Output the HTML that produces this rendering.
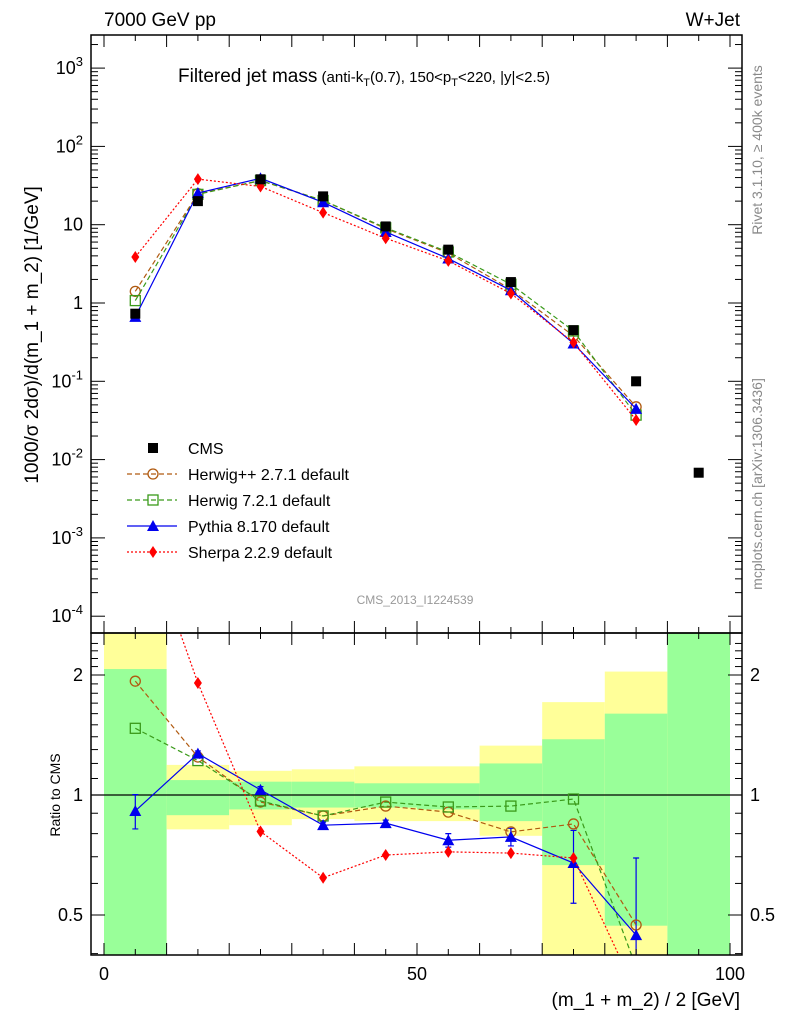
<!DOCTYPE html>
<html><head><meta charset="utf-8"><style>
body{margin:0;background:#fff;font-family:"Liberation Sans",sans-serif}
svg text{font-family:"Liberation Sans","DejaVu Sans",sans-serif}
</style></head><body>
<svg id="c" width="786" height="1024" xmlns="http://www.w3.org/2000/svg"></svg>
<script>
const xc=[5,15,25,35,45,55,65,75,85];
const cmsX=[5,15,25,35,45,55,65,75,85,95];
const cmsY=[0.73,20,38,23,9.5,4.8,1.85,0.45,0.1,0.0068];
const hppR=[1.93,1.245,0.96,0.886,0.938,0.906,0.808,0.846,0.472];
const h7R=[1.47,1.22,0.966,0.886,0.96,0.933,0.938,0.977,0.37];
const pyR=[0.912,1.27,1.03,0.84,0.85,0.77,0.785,0.675,0.445];
const shR=[5.3,1.91,0.81,0.62,0.707,0.72,0.715,0.695,0.32];
const pyErr=[0.09,0.02,0.02,0.015,0.015,0.03,0.04,0.14,0.25];
const binLo=[0,10,20,30,40,50,60,70,80,90];
const yelLo=[0.3,0.82,0.84,0.87,0.86,0.86,0.79,0.3,0.3,0.3];
const yelHi=[3,1.19,1.15,1.16,1.18,1.18,1.33,1.71,2.04,3];
const grnLo=[0.3,0.89,0.92,0.93,0.93,0.92,0.86,0.667,0.47,0.3];
const grnHi=[2.07,1.09,1.08,1.08,1.07,1.07,1.2,1.38,1.6,3];
const mainTicks=[3,2,1,0,-1,-2,-3,-4];
const xTicks=[0,50,100];
const ratioTicks=[0.5,1,2];

const S=document.getElementById('c');const NS='http://www.w3.org/2000/svg';
function el(t,a,p){const e=document.createElementNS(NS,t);for(const k in a)e.setAttribute(k,a[k]);(p||S).appendChild(e);return e;}
const L=91,R=742,T=35,MB=633,RB=955;
const X=v=>104+v*6.26;
const Y=v=>303-Math.log10(v)*78.3;
const YR=v=>795-Math.log10(v)*398.6;
const defs=el('defs',{});
const cp1=el('clipPath',{id:'cm'},defs);el('rect',{x:L,y:T,width:R-L,height:MB-T},cp1);
const cp2=el('clipPath',{id:'cr'},defs);el('rect',{x:L,y:MB,width:R-L,height:RB-MB},cp2);
const gm=el('g',{'clip-path':'url(#cm)'});
const gr=el('g',{'clip-path':'url(#cr)'});
for(let i=0;i<binLo.length;i++){
 let r=el('rect',{x:X(binLo[i]),y:YR(yelHi[i]),width:X(10)-X(0),height:YR(yelLo[i])-YR(yelHi[i]),fill:'#ffff99'},gr);
 
 
 let g=el('rect',{x:X(binLo[i]),y:YR(grnHi[i]),width:X(10)-X(0),height:YR(grnLo[i])-YR(grnHi[i]),fill:'#99ff99'},gr);
 
 
}
el('line',{x1:L,x2:R,y1:YR(1),y2:YR(1),stroke:'#000','stroke-width':1.2},gr);
const series=[
 {r:hppR,c:'#b05a10',d:'5,3',m:'circ',n:'herwigpp'},
 {r:h7R,c:'#3a9a1a',d:'5,3',m:'sq',n:'herwig7'},
 {r:pyR,c:'#0000ee',d:'',m:'tri',n:'pythia'},
 {r:shR,c:'#ff0000',d:'2,2',m:'dia',n:'sherpa'}];
function marker(g,m,x,y,c){
 if(m==='circ')return el('circle',{cx:x,cy:y,r:5,fill:'none',stroke:c,'stroke-width':1.3},g);
 if(m==='sq')return el('rect',{x:x-5,y:y-5,width:10,height:10,fill:'none',stroke:c,'stroke-width':1.3},g);
 if(m==='tri')return el('polygon',{points:`${x},${y-6} ${x-6},${y+5} ${x+6},${y+5}`,fill:c},g);
 if(m==='dia')return el('polygon',{points:`${x},${y-6} ${x-4},${y} ${x},${y+6} ${x+4},${y}`,fill:c},g);
 return el('rect',{x:x-5,y:y-5,width:10,height:10,fill:c},g);
}
// pythia error bars
xc.forEach((x,i)=>{
 const lo=pyR[i]-pyErr[i],hi=pyR[i]+pyErr[i];
 const eb=el('path',{d:`M${X(x)},${YR(hi)}V${YR(lo)}M${X(x)-3},${YR(hi)}h6M${X(x)-3},${YR(lo)}h6`,stroke:'#0000ee','stroke-width':1.2,fill:'none'},gr);
 
 
});
series.forEach(s=>{
 const pm=xc.map((x,i)=>X(x)+','+Y(s.r[i]*cmsY[i])).join(' ');
 const pr=xc.map((x,i)=>X(x)+','+YR(s.r[i])).join(' ');
 let a=el('polyline',{points:pm,fill:'none',stroke:s.c,'stroke-width':1.2,'stroke-dasharray':s.d},gm);
 
 
 let b=el('polyline',{points:pr,fill:'none',stroke:s.c,'stroke-width':1.2,'stroke-dasharray':s.d},gr);
 
 
 xc.forEach((x,i)=>{
  let m1=marker(gm,s.m,X(x),Y(s.r[i]*cmsY[i]),s.c);
  
  
  let m2=marker(gr,s.m,X(x),YR(s.r[i]),s.c);
  
  
 });
});
cmsX.forEach((x,i)=>{
 let m=marker(gm,'cms',X(x),Y(cmsY[i]),'#000');
 
 
});
el('rect',{x:L,y:T,width:R-L,height:MB-T,fill:'none',stroke:'#000','stroke-width':1.5});
el('rect',{x:L,y:MB,width:R-L,height:RB-MB,fill:'none',stroke:'#000','stroke-width':1.5});
function tx(x,y,s,a,p){const t=el('text',Object.assign({x:x,y:y,'font-size':18,fill:'#000'},a||{}),p);t.textContent=s;return t;}
mainTicks.forEach(e=>{
 const y=Y(Math.pow(10,e));
 el('line',{x1:L,x2:L+14,y1:y,y2:y,stroke:'#000'});el('line',{x1:R-14,x2:R,y1:y,y2:y,stroke:'#000'});
 for(let k=2;k<10;k++){const yy=Y(k*Math.pow(10,e));if(yy>T&&yy<MB){el('line',{x1:L,x2:L+7,y1:yy,y2:yy,stroke:'#000'});el('line',{x1:R-7,x2:R,y1:yy,y2:yy,stroke:'#000'});}}
 let lab;
 if(e===0)lab=tx(L-8,y+6,'1',{'text-anchor':'end'});
 else if(e===1)lab=tx(L-8,y+6,'10',{'text-anchor':'end'});
 else{lab=el('text',{x:L-8,y:y+6,'font-size':18,'text-anchor':'end'});lab.innerHTML='10<tspan dy="-8" font-size="13">'+e+'</tspan>';}
 
 
});
for(let v=0;v<=100;v+=5){
 const x=X(v),big=v%10===0?12:6;
 [MB,RB].forEach(b=>el('line',{x1:x,x2:x,y1:b,y2:b-big,stroke:'#000'}));
 el('line',{x1:x,x2:x,y1:T,y2:T+big,stroke:'#000'});el('line',{x1:x,x2:x,y1:MB,y2:MB+big,stroke:'#000'});
}
xTicks.forEach(v=>{const t=tx(X(v),980,String(v),{'text-anchor':'middle'});});
for(let r=0.4;r<=2.5;r+=0.1){const y=YR(r);if(y<MB||y>RB)continue;const big=[0.5,1,2].some(q=>Math.abs(q-r)<1e-6)?14:7;
 el('line',{x1:L,x2:L+big,y1:y,y2:y,stroke:'#000'});el('line',{x1:R-big,x2:R,y1:y,y2:y,stroke:'#000'});}
ratioTicks.forEach(r=>{const y=YR(r)+6;
 let a=tx(L-8,y,String(r),{'text-anchor':'end'});
 let b=tx(R+8,y,String(r));});
let t;
t=tx(104,26,'7000 GeV pp',{'font-size':19});
t=tx(740,26,'W+Jet',{'font-size':19,'text-anchor':'end'});
t=el('text',{x:178,y:82,'font-size':19});t.innerHTML='Filtered jet mass<tspan font-size="15"> (anti-k<tspan dy="4" font-size="11">T</tspan><tspan dy="-4">(0.7), 150&lt;p</tspan><tspan dy="4" font-size="11">T</tspan><tspan dy="-4">&lt;220, |y|&lt;2.5)</tspan></tspan>';

t=el('text',{x:0,y:0,'font-size':19,transform:'translate(38,335) rotate(-90)','text-anchor':'middle'});t.textContent='1000/σ 2dσ)/d(m_1 + m_2) [1/GeV]';
t=el('text',{x:0,y:0,'font-size':14,transform:'translate(60,795) rotate(-90)','text-anchor':'middle'});t.textContent='Ratio to CMS';
t=tx(740,1006,'(m_1 + m_2) / 2 [GeV]',{'font-size':19,'text-anchor':'end'});
t=el('text',{x:0,y:0,'font-size':14,fill:'#888',transform:'translate(762,150) rotate(-90)','text-anchor':'middle'});t.textContent='Rivet 3.1.10, ≥ 400k events';
t=el('text',{x:0,y:0,'font-size':14,fill:'#888',transform:'translate(762,484) rotate(-90)','text-anchor':'middle'});t.textContent='mcplots.cern.ch [arXiv:1306.3436]';
t=tx(415,604,'CMS_2013_I1224539',{'font-size':12,fill:'#999','text-anchor':'middle'});
const leg=[['CMS','#000','','cms'],['Herwig++ 2.7.1 default','#b05a10','5,3','circ'],['Herwig 7.2.1 default','#3a9a1a','5,3','sq'],['Pythia 8.170 default','#0000ee','','tri'],['Sherpa 2.2.9 default','#ff0000','2,2','dia']];
leg.forEach((l,i)=>{const y=448+i*26;const g=el('g',{});
 
 
 if(i>0)el('line',{x1:127,x2:177,y1:y,y2:y,stroke:l[1],'stroke-width':1.2,'stroke-dasharray':l[2]},g);
 marker(g,l[3],153,y,l[1]);
 tx(188,y+6,l[0],{'font-size':16},g);
});
</script>
</body></html>
